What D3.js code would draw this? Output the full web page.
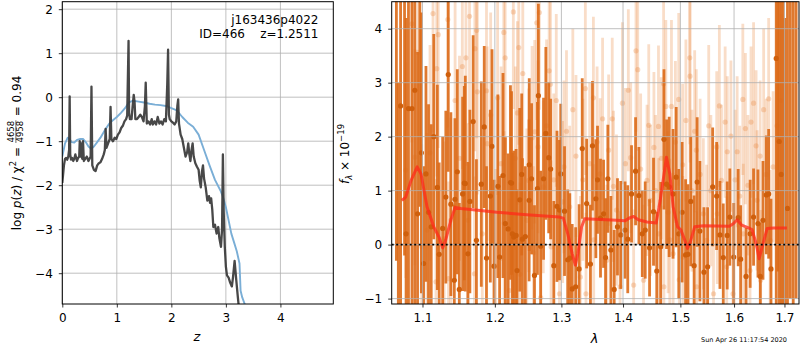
<!DOCTYPE html>
<html><head><meta charset="utf-8">
<script src="https://cdn.jsdelivr.net/npm/d3@7"></script>
<style>body{margin:0;background:#fff} text{font-family:"DejaVu Sans",sans-serif;fill:#000}</style>
</head><body><svg id="c" width="800" height="350"></svg>
<script>
// ---------------- data ----------------
const zTicks = [0,1,2,3,4];
const logpTicks = [-4,-3,-2,-1,0,1,2];
const lamTicks = [1.1,1.2,1.3,1.4,1.5,1.6,1.7];
const fluxTicks = [-1,0,1,2,3,4];

// log p(z) (dark line)
const pzCurve = [[0.00,-1.95],[0.03,-1.55],[0.05,-1.40],[0.07,-1.38],[0.09,-1.42],[0.11,-1.35],[0.125,-1.2],[0.135,0.02],[0.145,-1.3],[0.16,-1.42],[0.18,-1.38],[0.20,-1.45],[0.22,-1.40],[0.24,-1.30],[0.255,-1.38],[0.27,-1.45],[0.29,-1.38],[0.31,-1.35],[0.32,-1.0],[0.335,-1.35],[0.35,-1.05],[0.365,-1.40],[0.38,-1.0],[0.395,-1.45],[0.42,-1.40],[0.45,-1.35],[0.48,-1.45],[0.52,-1.35],[0.535,0.24],[0.55,-1.55],[0.58,-1.65],[0.61,-1.68],[0.64,-1.55],[0.67,-1.50],[0.70,-1.48],[0.73,-1.40],[0.76,-1.30],[0.78,-1.2],[0.795,-0.72],[0.81,-1.15],[0.84,-1.05],[0.87,-0.95],[0.885,-0.22],[0.90,-0.95],[0.93,-1.0],[0.96,-0.92],[0.99,-0.95],[1.02,-0.85],[1.05,-0.80],[1.08,-0.70],[1.11,-0.65],[1.14,-0.55],[1.17,-0.50],[1.19,-0.42],[1.205,0.6],[1.215,1.28],[1.225,-0.35],[1.24,-0.5],[1.27,-0.5],[1.29,-0.2],[1.31,0.05],[1.325,-0.1],[1.34,-0.5],[1.37,-0.5],[1.40,-0.45],[1.43,-0.4],[1.46,-0.45],[1.49,-0.55],[1.515,-0.2],[1.53,0.33],[1.55,-0.6],[1.58,-0.55],[1.61,-0.62],[1.64,-0.5],[1.66,-0.62],[1.69,-0.55],[1.72,-0.62],[1.75,-0.45],[1.78,-0.6],[1.81,-0.55],[1.84,-0.62],[1.87,-0.5],[1.90,-0.55],[1.925,0.3],[1.94,1.08],[1.955,-0.4],[1.97,-0.5],[2.00,-0.55],[2.03,-0.58],[2.06,-0.62],[2.09,-0.55],[2.11,-0.2],[2.125,-0.05],[2.14,-0.6],[2.17,-0.85],[2.20,-0.95],[2.23,-1.15],[2.26,-1.35],[2.29,-1.25],[2.31,-1.05],[2.33,-1.30],[2.35,-1.45],[2.37,-1.20],[2.39,-1.05],[2.41,-1.35],[2.44,-1.50],[2.47,-1.58],[2.50,-1.65],[2.52,-1.90],[2.54,-2.05],[2.56,-1.70],[2.58,-1.55],[2.60,-1.85],[2.63,-2.05],[2.66,-2.35],[2.69,-2.25],[2.71,-2.40],[2.73,-2.30],[2.75,-2.55],[2.77,-2.95],[2.80,-2.90],[2.83,-3.10],[2.86,-2.95],[2.88,-3.20],[2.91,-3.40],[2.93,-3.0],[2.945,-1.30],[2.96,-2.6],[2.98,-3.4],[3.00,-3.85],[3.02,-4.05],[3.05,-4.10],[3.08,-4.22],[3.11,-4.30],[3.13,-4.10],[3.16,-3.72],[3.19,-4.15],[3.22,-4.55],[3.24,-4.8]];

// chi2-based curve (blue)
const chiCurve = [[0.00,-1.35],[0.05,-1.05],[0.10,-0.92],[0.13,-0.95],[0.17,-1.02],[0.22,-1.03],[0.27,-0.97],[0.33,-0.95],[0.38,-0.95],[0.43,-1.02],[0.48,-1.12],[0.53,-1.17],[0.58,-1.12],[0.64,-1.02],[0.70,-0.92],[0.78,-0.75],[0.85,-0.62],[0.90,-0.55],[1.00,-0.45],[1.08,-0.35],[1.15,-0.25],[1.22,-0.12],[1.30,-0.08],[1.40,-0.10],[1.50,-0.12],[1.60,-0.15],[1.70,-0.17],[1.80,-0.18],[1.90,-0.20],[2.00,-0.25],[2.10,-0.30],[2.20,-0.45],[2.30,-0.58],[2.40,-0.67],[2.50,-0.85],[2.60,-1.2],[2.70,-1.55],[2.80,-1.88],[2.90,-2.12],[2.95,-2.28],[3.00,-2.5],[3.05,-2.8],[3.10,-3.1],[3.15,-3.3],[3.20,-3.5],[3.25,-3.78],[3.27,-4.4],[3.30,-4.55],[3.36,-4.75]];

// spectrum points [wavelength, flux, error] - bold
const specMain = [[1.066,5.2,5.5],[1.0685,-1.5,4.5],[1.0714,2.57,5],[1.0765,4.8,5],[1.0785,0.2,4],[1.0816,2.52,5],[1.0862,2.52,5],[1.0899,2.86,5],[1.0935,0.57,3],[1.0965,4.9,4.2],[1.0985,1.7,2.6],[1.1014,-0.35,1.8],[1.1046,1.31,2.0],[1.108,0.6,2.0],[1.1116,0.33,1.9],[1.115,2.0,1.9],[1.1198,1.06,1.9],[1.1223,-0.18,1.7],[1.127,0.3,1.7],[1.1313,0.88,1.6],[1.1346,3.15,1.8],[1.1382,0.75,1.7],[1.1429,-0.66,1.4],[1.1438,0.84,1.5],[1.147,1.35,1.9],[1.1498,-0.83,1.6],[1.1544,0.94,1.8],[1.1567,1.14,1.8],[1.1581,1.13,2.0],[1.1617,-0.17,1.7],[1.1645,0.8,1.7],[1.1691,2.28,1.6],[1.1737,0.08,1.5],[1.1806,1.12,1.9],[1.1848,2.18,1.5],[1.188,-0.25,1.7],[1.1935,0.9,1.6],[1.1959,1.82,1.8],[1.1988,-0.4,1.6],[1.2044,1.08,1.7],[1.2069,-0.23,1.5],[1.2118,1.28,1.9],[1.2153,0.39,1.6],[1.2192,0.29,1.4],[1.2227,1.15,1.8],[1.2243,1.14,1.7],[1.2256,0.2,1.5],[1.2276,0.14,1.6],[1.2311,0.17,1.6],[1.2325,-0.48,1.5],[1.2365,0.83,1.7],[1.2394,1.3,1.5],[1.2405,0.1,1.5],[1.2448,0.15,1.3],[1.2505,0.82,1.5],[1.2507,1.48,1.6],[1.2542,1.22,1.4],[1.2586,-0.57,1.3],[1.2631,1.04,1.6],[1.2645,2.76,1.7],[1.268,-0.03,1.4],[1.2724,1.22,1.5],[1.2759,2.06,1.6],[1.2803,1.61,1.4],[1.2833,1.4,1.3],[1.2882,-0.39,1.2],[1.2931,0.71,1.4],[1.297,0.64,1.3],[1.299,1.31,1.3],[1.3049,0.62,1.2],[1.3099,-0.28,1.3],[1.3132,-0.25,1.2],[1.317,-0.82,1.2],[1.3225,-0.78,1.1],[1.328,-0.45,1.2],[1.333,1.78,1.3],[1.3401,0.76,1.2],[1.3462,-0.36,1.1],[1.3495,1.83,1.2],[1.355,0.85,1.1],[1.3577,1.2,1.0],[1.3626,0.49,1.1],[1.3676,0.57,1.0],[1.3709,-0.24,1.1],[1.3747,1.22,1.0],[1.3797,-0.1,1.0],[1.3852,-0.83,1.1],[1.3907,0.33,0.9],[1.3962,0.18,1.0],[1.4034,0.27,0.9],[1.408,0.1,1.0],[1.4144,0.94,0.9],[1.4213,1.36,1.0],[1.427,0.91,0.9],[1.4328,0.2,0.8],[1.4379,0.27,0.9],[1.4454,-0.06,0.9],[1.4523,0.61,1.0],[1.458,-0.49,1.1],[1.4649,-0.04,1.2],[1.4707,1.95,1.3],[1.4753,1.12,1.2],[1.4799,1.07,1.3],[1.4868,0.94,1.2],[1.4925,1.25,1.3],[1.4971,0.2,1.2],[1.5031,0.6,1.3],[1.5094,-0.19,1.4],[1.5138,-0.18,1.3],[1.5188,0.8,1.2],[1.525,-0.39,1.3],[1.5306,1.16,1.2],[1.5356,0.25,1.3],[1.5431,-0.51,1.2],[1.55,-0.41,1.1],[1.5594,1.07,1.1],[1.5669,0.9,1.0],[1.5731,0.18,1.0],[1.5794,-0.24,1.0],[1.5869,0.17,1.0],[1.5919,0.51,0.9],[1.5994,-0.23,1.0],[1.608,0.5,0.9],[1.6127,-0.27,1.0],[1.6233,-0.59,0.9],[1.6313,0.2,1.0],[1.638,0.51,0.9],[1.6467,0.39,1.0],[1.6513,-0.59,1.0],[1.6567,0.45,1.1],[1.6633,0.92,1.1],[1.668,0.94,1.2],[1.6727,-0.45,1.3],[1.6833,3.45,5],[1.6865,5.5,6],[1.6893,1.91,5],[1.6933,1.3,5],[1.697,4.8,6],[1.701,-1.8,6],[1.7062,0.67,5],[1.712,5.0,6],[1.718,4.6,6],[1.724,5.0,6]];

// spectrum points [wavelength, flux, error] - faint
const specFaint = [[1.078,1.38,2.0],[1.086,4.09,2.2],[1.090,1.62,2.0],[1.094,3.56,2.1],[1.099,-0.04,1.9],[1.106,0.27,1.8],[1.110,1.7,2.0],[1.114,4.28,2.2],[1.118,-0.69,1.9],[1.119,3.26,2.0],[1.121,3.89,2.1],[1.129,0.11,1.8],[1.134,4.17,2.0],[1.135,-0.63,1.8],[1.138,0.45,1.9],[1.144,2.67,2.0],[1.150,1.6,1.9],[1.154,3.3,1.9],[1.159,3.46,2.0],[1.162,0.45,1.8],[1.164,4.23,2.0],[1.171,-0.54,1.8],[1.1715,3.63,1.9],[1.174,3.97,2.0],[1.175,2.83,1.9],[1.182,0.2,1.8],[1.188,2.85,1.9],[1.189,1.87,1.8],[1.194,2.4,1.9],[1.201,-0.4,1.8],[1.204,2.72,1.8],[1.209,1.5,1.8],[1.213,3.93,1.9],[1.2135,0.4,1.7],[1.215,3.46,1.8],[1.221,-0.85,1.7],[1.227,4.31,1.8],[1.230,1.6,1.7],[1.233,2.44,1.7],[1.235,3.65,1.8],[1.237,-0.55,1.7],[1.241,3.17,1.8],[1.247,0.45,1.7],[1.25,1.19,1.7],[1.255,1.98,1.7],[1.257,-0.15,1.6],[1.259,2.09,1.7],[1.262,4.11,1.8],[1.264,1.81,1.6],[1.266,4.3,1.8],[1.268,-0.98,1.6],[1.272,1.07,1.6],[1.277,2.2,1.6],[1.281,3.22,1.7],[1.283,2.97,1.6],[1.284,-0.04,1.6],[1.288,1.2,1.6],[1.292,2.67,1.6],[1.297,-0.91,1.5],[1.302,0.79,1.5],[1.304,1.44,1.6],[1.308,2.1,1.5],[1.313,0.7,1.5],[1.318,2.5,1.5],[1.323,1.64,1.5],[1.33,-0.6,1.5],[1.334,1.2,1.5],[1.338,2.89,1.6],[1.339,-0.91,1.5],[1.345,1.5,1.5],[1.351,2.72,1.5],[1.3515,0.09,1.4],[1.357,1.9,1.4],[1.362,1.31,1.4],[1.366,2.33,1.5],[1.373,-0.29,1.4],[1.376,1.75,1.4],[1.382,2.33,1.5],[1.384,1.08,1.4],[1.389,0.64,1.4],[1.395,-0.78,1.4],[1.399,2.62,1.5],[1.404,1.5,1.4],[1.409,2.86,1.5],[1.413,1.61,1.4],[1.418,-0.75,1.4],[1.422,3.59,1.5],[1.425,3.24,1.5],[1.430,1.4,1.4],[1.435,-0.66,1.4],[1.441,1.19,1.4],[1.444,2.21,1.5],[1.447,0.82,1.4],[1.453,1.8,1.4],[1.456,1.0,1.4],[1.461,2.19,1.5],[1.4615,0.2,1.4],[1.466,1.6,1.5],[1.47,2.98,1.6],[1.4705,-0.78,1.5],[1.474,2.56,1.6],[1.478,0.6,1.5],[1.481,0.09,1.5],[1.484,2.56,1.6],[1.487,-0.17,1.5],[1.491,1.9,1.5],[1.497,2.69,1.6],[1.498,-0.65,1.5],[1.504,1.48,1.5],[1.5045,-0.23,1.5],[1.510,2.3,1.5],[1.517,3.46,1.6],[1.5175,3.12,1.6],[1.521,1.0,1.5],[1.526,2.1,1.5],[1.529,1.75,1.5],[1.5295,-0.78,1.4],[1.536,1.3,1.4],[1.542,0.57,1.4],[1.548,0.08,1.4],[1.552,2.2,1.5],[1.556,1.0,1.4],[1.561,-0.91,1.4],[1.567,1.81,1.4],[1.568,0.57,1.3],[1.572,2.57,1.5],[1.576,1.19,1.4],[1.583,2.27,1.4],[1.586,-0.41,1.3],[1.587,1.72,1.4],[1.594,2.01,1.4],[1.598,-0.91,1.3],[1.602,1.2,1.3],[1.606,1.72,1.4],[1.611,0.9,1.3],[1.617,2.69,1.4],[1.618,0.2,1.3],[1.622,2.15,1.4],[1.627,1.1,1.3],[1.631,-0.48,1.3],[1.633,2.27,1.4],[1.638,2.62,1.5],[1.643,1.83,1.4],[1.645,0.82,1.3],[1.651,1.64,1.4],[1.652,-0.66,1.3],[1.658,2.5,1.5],[1.663,1.3,1.4],[1.668,2.7,1.5],[1.671,0.08,1.3],[1.677,1.44,1.4],[1.685,2.2,1.6],[1.693,2.67,1.6]];

// model [wavelength, flux]
const modelCurve = [[1.073,0.82],[1.078,0.88],[1.085,1.19],[1.093,1.44],[1.098,1.31],[1.106,0.70],[1.115,0.33],[1.122,0.14],[1.127,-0.06],[1.131,0.08],[1.138,0.45],[1.144,0.69],[1.152,0.67],[1.203,0.60],[1.252,0.55],[1.297,0.51],[1.303,0.49],[1.310,0.20],[1.317,-0.17],[1.322,-0.38],[1.326,-0.17],[1.332,0.33],[1.337,0.48],[1.390,0.45],[1.403,0.44],[1.412,0.50],[1.418,0.52],[1.426,0.46],[1.441,0.42],[1.457,0.40],[1.464,0.82],[1.470,1.25],[1.475,1.62],[1.481,1.31],[1.487,0.70],[1.495,0.33],[1.501,0.27],[1.508,0.08],[1.513,-0.07],[1.518,0.05],[1.526,0.33],[1.542,0.35],[1.591,0.34],[1.599,0.39],[1.606,0.46],[1.615,0.36],[1.628,0.31],[1.635,0.28],[1.643,0.02],[1.649,-0.26],[1.656,-0.01],[1.665,0.30],[1.678,0.31],[1.705,0.31]];

// ---------------- drawing ----------------
const svg = d3.select("#c");
const FS = 12;

function axisStyle(g){
  g.select(".domain").remove();
  g.selectAll(".tick line").attr("stroke","#000").attr("stroke-width",0.8);
  g.selectAll(".tick text").attr("font-size",FS).attr("font-family","DejaVu Sans").attr("fill","#000");
}

// ===== Left panel =====
const L = {x0:62.3, x1:333.3, y0:1.7, y1:304};
const xL = d3.scaleLinear().domain([0,4.97]).range([L.x0,L.x1]);
const yL = d3.scaleLinear().domain([-4.7,2.17]).range([L.y1,L.y0]);

svg.append("clipPath").attr("id","clipL").append("rect")
  .attr("x",L.x0).attr("y",L.y0).attr("width",L.x1-L.x0).attr("height",L.y1-L.y0);

const gL = svg.append("g");
const gridL = gL.append("g").attr("stroke","#b0b0b0").attr("stroke-width",0.8);
zTicks.forEach(t=>gridL.append("line").attr("x1",xL(t)).attr("x2",xL(t)).attr("y1",L.y0).attr("y2",L.y1));
logpTicks.forEach(t=>gridL.append("line").attr("y1",yL(t)).attr("y2",yL(t)).attr("x1",L.x0).attr("x2",L.x1));

const lineL = d3.line().x(d=>xL(d[0])).y(d=>yL(d[1]));
const cl = gL.append("g").attr("clip-path","url(#clipL)");
cl.append("path").datum(chiCurve).attr("d",lineL).attr("fill","none")
  .attr("stroke","#7aaed6").attr("stroke-width",1.9).attr("stroke-linejoin","round");
cl.append("path").datum(pzCurve).attr("d",lineL).attr("fill","none")
  .attr("stroke","#383838").attr("stroke-opacity",0.92).attr("stroke-width",2.3).attr("stroke-linejoin","round");

gL.append("rect").attr("x",L.x0).attr("y",L.y0).attr("width",L.x1-L.x0).attr("height",L.y1-L.y0)
  .attr("fill","none").attr("stroke","#000").attr("stroke-width",1);

gL.append("g").attr("transform",`translate(0,${L.y1})`)
  .call(d3.axisBottom(xL).tickValues(zTicks).tickSize(3.5).tickPadding(6).tickFormat(d3.format("d"))).call(axisStyle);
gL.append("g").attr("transform",`translate(${L.x0},0)`)
  .call(d3.axisLeft(yL).tickValues(logpTicks).tickSize(3.5).tickPadding(6).tickFormat(d3.format("d"))).call(axisStyle);

// annotation
gL.append("text").attr("x",318.5).attr("y",24).attr("text-anchor","end").attr("font-size",FS).text("j163436p4022");
gL.append("text").attr("x",318.5).attr("y",38).attr("text-anchor","end").attr("font-size",FS)
  .style("white-space","pre").attr("xml:space","preserve").text("ID=466    z=1.2511");

// x label
gL.append("text").attr("x",197).attr("y",341).attr("text-anchor","middle").attr("font-size",13)
  .attr("font-style","italic").text("z");

// y label with fraction
{
  const g = gL.append("g").attr("transform","translate(20.5,153) rotate(-90)");
  const t1 = g.append("text").attr("font-size",FS).attr("x",0).attr("y",0);
  t1.append("tspan").text("log ");
  t1.append("tspan").attr("font-style","italic").text("p");
  t1.append("tspan").text("(");
  t1.append("tspan").attr("font-style","italic").text("z");
  t1.append("tspan").text(") / \u03C7");
  t1.append("tspan").attr("font-size",8.5).attr("dy",-5).text("2");
  t1.append("tspan").attr("dy",5).text(" =");
  const w1 = t1.node().getComputedTextLength() + 4;
  const num = g.append("text").attr("font-size",8.5).attr("text-anchor","middle").text("4658");
  const den = g.append("text").attr("font-size",8.5).attr("text-anchor","middle").text("4958");
  const wf = Math.max(num.node().getComputedTextLength(), den.node().getComputedTextLength()) + 1;
  const t3 = g.append("text").attr("font-size",FS).text("= 0.94");
  const w3 = t3.node().getComputedTextLength();
  const gap = 4;
  const total = w1 + wf + gap + w3;
  const s = -total/2;
  t1.attr("x",s);
  num.attr("x",s+w1+wf/2).attr("y",-6.5);
  den.attr("x",s+w1+wf/2).attr("y",2.5);
  g.append("line").attr("x1",s+w1).attr("x2",s+w1+wf).attr("y1",-4.6).attr("y2",-4.6).attr("stroke","#000").attr("stroke-width",0.6);
  t3.attr("x",s+w1+wf+gap);
}

// ===== Right panel =====
const R = {x0:391.7, x1:799, y0:1.7, y1:304};
const xR = d3.scaleLog().domain([1.06,1.73]).range([R.x0,R.x1]);
const yR = d3.scaleLinear().domain([-1.1,4.5]).range([R.y1,R.y0]);

svg.append("clipPath").attr("id","clipR").append("rect")
  .attr("x",R.x0).attr("y",R.y0).attr("width",R.x1-R.x0).attr("height",R.y1-R.y0);

const gR = svg.append("g");
const cr = gR.append("g").attr("clip-path","url(#clipR)");

// faint points
const fg = cr.append("g");
fg.selectAll("line").data(specFaint).join("line")
  .attr("x1",d=>xR(d[0])).attr("x2",d=>xR(d[0]))
  .attr("y1",d=>yR(d[1]-d[2])).attr("y2",d=>yR(d[1]+d[2]))
  .attr("stroke","#e8843a").attr("stroke-opacity",0.28).attr("stroke-width",2.8);
fg.selectAll("circle").data(specFaint).join("circle")
  .attr("cx",d=>xR(d[0])).attr("cy",d=>yR(d[1])).attr("r",2.6)
  .attr("fill","#e8843a").attr("fill-opacity",0.3);

// main points
const mg = cr.append("g");
mg.selectAll("line").data(specMain).join("line")
  .attr("x1",d=>xR(d[0])).attr("x2",d=>xR(d[0]))
  .attr("y1",d=>yR(d[1]-d[2])).attr("y2",d=>yR(d[1]+d[2]))
  .attr("stroke","#dc6a18").attr("stroke-opacity",0.9).attr("stroke-width",2.8);
mg.selectAll("circle").data(specMain).join("circle")
  .attr("cx",d=>xR(d[0])).attr("cy",d=>yR(d[1])).attr("r",2.6)
  .attr("fill","#cf5f0c");

// grid on top of points
const gridR = cr.append("g").attr("stroke","#b0b0b0").attr("stroke-width",0.8);
lamTicks.forEach(t=>gridR.append("line").attr("x1",xR(t)).attr("x2",xR(t)).attr("y1",R.y0).attr("y2",R.y1));
fluxTicks.forEach(t=>gridR.append("line").attr("y1",yR(t)).attr("y2",yR(t)).attr("x1",R.x0).attr("x2",R.x1));

// model
const lineR = d3.line().x(d=>xR(d[0])).y(d=>yR(d[1]));
cr.append("path").datum(modelCurve).attr("d",lineR).attr("fill","none")
  .attr("stroke","#ff2a1a").attr("stroke-opacity",0.75).attr("stroke-width",3).attr("stroke-linejoin","round");

// zero line
cr.append("line").attr("x1",R.x0).attr("x2",R.x1).attr("y1",yR(0)).attr("y2",yR(0))
  .attr("stroke","#000").attr("stroke-width",1.8).attr("stroke-dasharray","2,2.5");

gR.append("rect").attr("x",R.x0).attr("y",R.y0).attr("width",R.x1-R.x0).attr("height",R.y1-R.y0)
  .attr("fill","none").attr("stroke","#000").attr("stroke-width",1);

gR.append("g").attr("transform",`translate(0,${R.y1})`)
  .call(d3.axisBottom(xR).tickValues(lamTicks).tickSize(3.5).tickPadding(6).tickFormat(d3.format(".1f"))).call(axisStyle);
gR.append("g").attr("transform",`translate(${R.x0},0)`)
  .call(d3.axisLeft(yR).tickValues(fluxTicks).tickSize(3.5).tickPadding(6).tickFormat(d3.format("d"))).call(axisStyle);

gR.append("text").attr("x",594.5).attr("y",343).attr("text-anchor","middle").attr("font-size",13)
  .attr("font-style","italic").text("\u03BB");

{
  const g = gR.append("g").attr("transform","translate(349,154) rotate(-90)");
  const t = g.append("text").attr("font-size",FS).attr("text-anchor","middle");
  t.append("tspan").attr("font-style","italic").text("f");
  t.append("tspan").attr("font-size",8.5).attr("font-style","italic").attr("dy",3).text("\u03BB");
  t.append("tspan").attr("dy",-3).text(" \u00D7 10");
  t.append("tspan").attr("font-size",8.5).attr("dy",-5).text("\u221219");
}

// time stamp
svg.append("text").attr("x",787).attr("y",342).attr("text-anchor","end").attr("font-size",6.5).text("Sun Apr 26 11:17:54 2020");
</script>
</body></html>
